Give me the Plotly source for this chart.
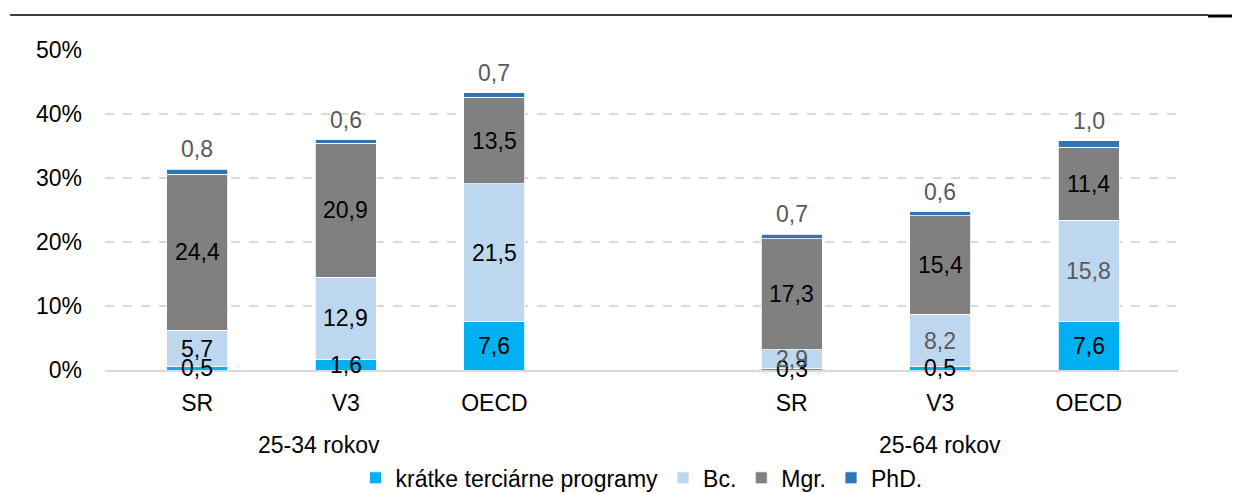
import plotly.graph_objects as go

categories = ["SR", "V3", "OECD", "SR", "V3", "OECD"]
positions = [0, 1, 2, 4, 5, 6]
group_labels = ["25-34 rokov", "25-64 rokov"]
group_label_pos = [0.82, 5.0]

series_names = ["krátke terciárne programy", "Bc.", "Mgr.", "PhD."]
short_tertiary = [0.5, 1.6, 7.6, 0.3, 0.5, 7.6]
bachelor = [5.7, 12.9, 21.5, 2.9, 8.2, 15.8]
master = [24.4, 20.9, 13.5, 17.3, 15.4, 11.4]
phd = [0.8, 0.6, 0.7, 0.7, 0.6, 1.0]

y_ticks = [0, 10, 20, 30, 40, 50]

colors = ["#00B0F0", "#BDD7EE", "#808080", "#2E75B6"]
FONT = "Liberation Sans Narrow, Arial Narrow, Liberation Sans, Arial, sans-serif"
FS = 23
DARK = "#000000"
GREY = "#595959"

series = [short_tertiary, bachelor, master, phd]

fig = go.Figure()
for name, vals, col in zip(series_names, series, colors):
    fig.add_trace(go.Bar(
        x=positions, y=vals, name=name, width=0.41,
        marker=dict(color=col, line=dict(color="white", width=0.8)),
        hoverinfo="skip",
    ))

def fmt(v):
    return f"{v:.1f}".replace(".", ",")

annotations = []
base = [0.0] * len(positions)
for si, vals in enumerate(series):
    for i, v in enumerate(vals):
        mid = base[i] + v / 2
        if si == 3:
            annotations.append(dict(x=positions[i], y=base[i] + v, text=fmt(v),
                                    showarrow=False, yanchor="bottom", yshift=5,
                                    font=dict(family=FONT, size=FS, color=GREY)))
        else:
            col = DARK
            if si == 1 and i >= 3:
                col = GREY
            annotations.append(dict(x=positions[i], y=mid, text=fmt(v),
                                    showarrow=False, yanchor="middle",
                                    font=dict(family=FONT, size=FS, color=col)))
        base[i] += v

for lbl, px in zip(group_labels, group_label_pos):
    annotations.append(dict(x=px, xref="x", y=-0.235, yref="paper", text=lbl,
                            showarrow=False, yanchor="middle",
                            font=dict(family=FONT, size=FS, color=DARK)))

fig.update_layout(
    barmode="stack",
    width=1232, height=485,
    margin=dict(l=97, r=62, t=42, b=123, autoexpand=False),
    paper_bgcolor="white", plot_bgcolor="white",
    font=dict(family=FONT, size=FS, color=DARK),
    showlegend=True,
    legend=dict(orientation="h", x=0.5, xanchor="center", y=-0.337, yanchor="middle",
                font=dict(family=FONT, size=FS, color=DARK), traceorder="normal",
                itemwidth=30, tracegroupgap=0),
    annotations=annotations,
    xaxis=dict(range=[-0.62, 6.6], tickmode="array", tickvals=positions,
               ticktext=categories, showgrid=False, zeroline=False,
               showline=True, linecolor="#D9D9D9", linewidth=1.5,
               ticks="", tickfont=dict(family=FONT, size=FS, color=DARK),
               ticklabelstandoff=12),
    yaxis=dict(range=[0, 50], tickmode="array", tickvals=y_ticks,
               ticktext=[f"{t}%" for t in y_ticks], showgrid=True,
               gridcolor="#D9D9D9", griddash="dash", gridwidth=1.5,
               zeroline=False, showline=False, ticks="",
               tickfont=dict(family=FONT, size=FS, color=DARK),
               ticklabelstandoff=22),
    shapes=[
        dict(type="line", xref="paper", yref="paper", x0=-0.0885, x1=1.028,
             y0=1.109, y1=1.109, line=dict(color="black", width=1.5)),
        dict(type="line", xref="paper", yref="paper", x0=1.028, x1=1.06,
             y0=1.106, y1=1.106, line=dict(color="black", width=3)),
    ],
)

fig.write_html("out.html")
